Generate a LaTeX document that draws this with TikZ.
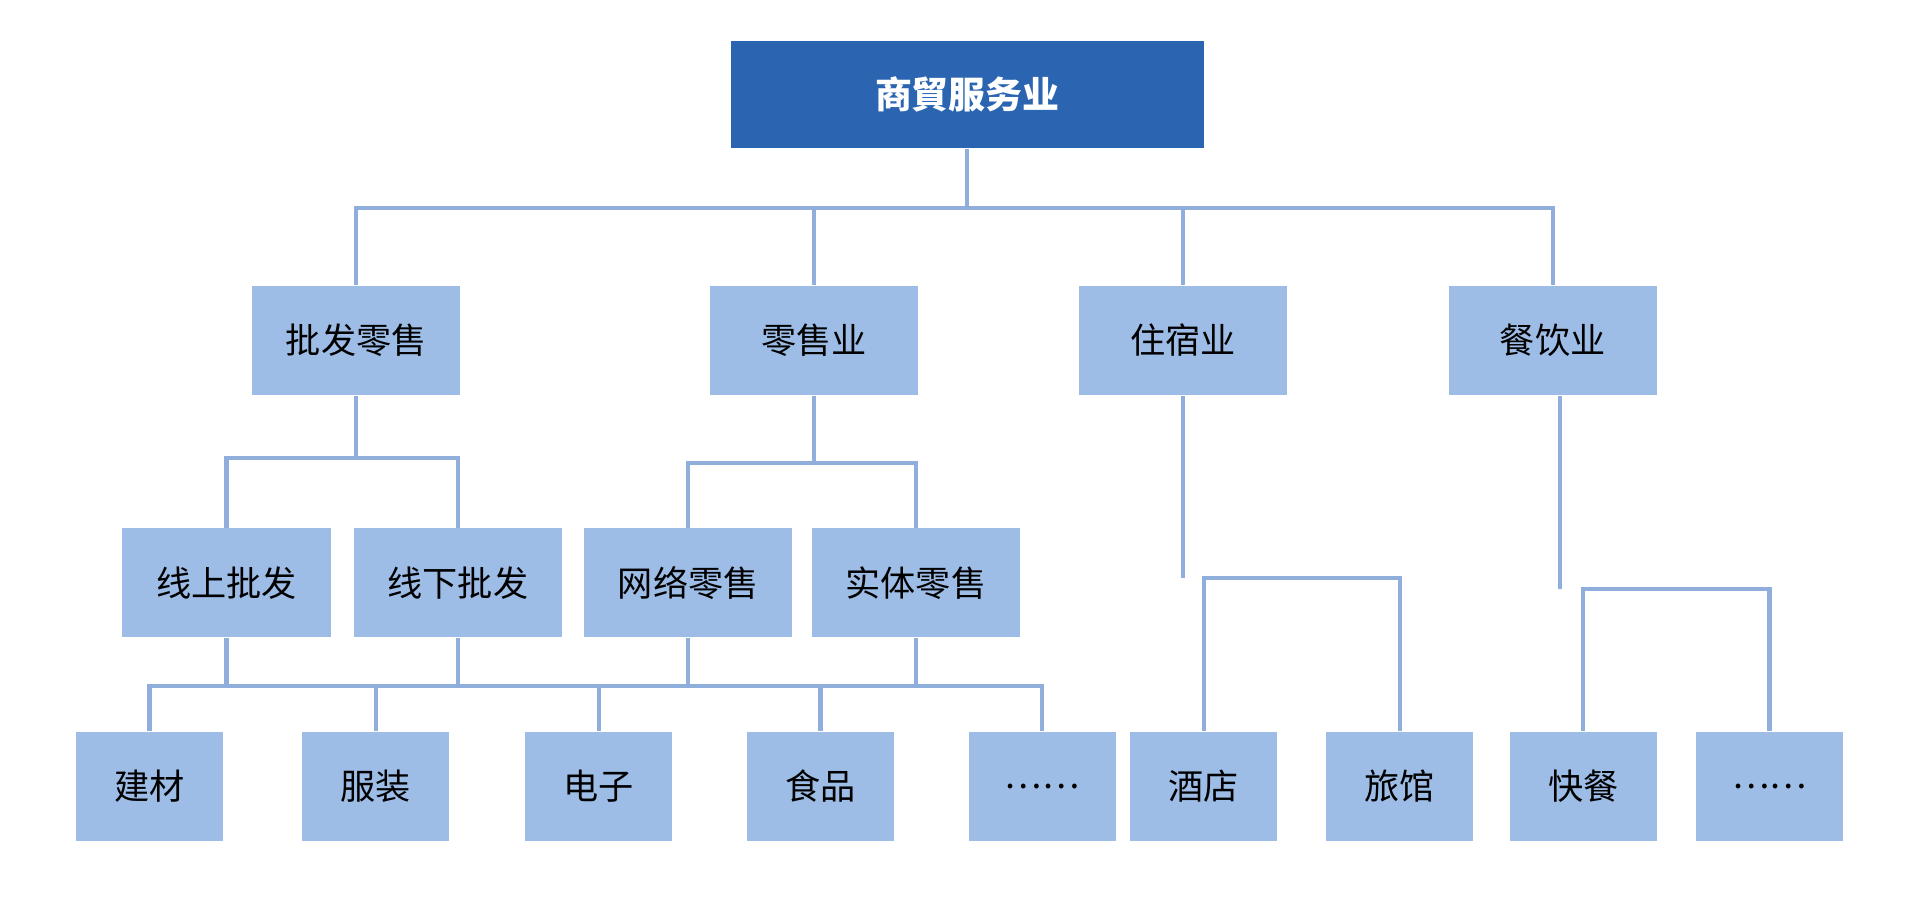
\documentclass[tikz,border=0pt]{standalone}
\usepackage{fontspec}
\newfontfamily\cjk{Noto Sans CJK SC}
\usetikzlibrary{positioning}
\definecolor{boxfill}{HTML}{9DBDE7}
\definecolor{topfill}{HTML}{2B65B2}
\definecolor{linkcol}{HTML}{8FAEDC}
\tikzset{
  box/.style={draw=none,fill=boxfill,minimum height=1.09cm,inner sep=0pt,
    font=\cjk\fontsize{10}{12}\selectfont},
  wide/.style={box,minimum width=2.08cm},
  small/.style={box,minimum width=1.47cm},
  link/.style={draw=linkcol,line width=1.2pt}
}
\begin{document}
\begin{tikzpicture}[x=0.012245cm,y=-0.012245cm]
\useasboundingbox (0,0) rectangle (1568,744);

% top node
\node[box,fill=topfill,text=white,minimum width=4.73cm,minimum height=1.07cm,
  font=\cjk\bfseries\fontsize{10.5}{12}\selectfont] (trade) at (790,77) {商貿服务业};

% second level
\node[wide] (wholesale) at (291,278) {批发零售};
\node[wide] (retail) at (665,278) {零售业};
\node[wide] (lodging) at (966,278) {住宿业};
\node[wide] (catering) at (1268,278) {餐饮业};

% third level
\node[wide] (online) at (185,476) {线上批发};
\node[wide] (offline) at (374,476) {线下批发};
\node[wide] (netretail) at (562,476) {网络零售};
\node[wide] (store) at (748,476) {实体零售};

% bottom level
\node[small] (build) at (122,642) {建材};
\node[small] (cloth) at (307,642) {服装};
\node[small] (elec) at (489,642) {电子};
\node[small] (food) at (670,642) {食品};
\node[small] (etcA) at (851,642) {……};
\node[small] (hotel) at (983,642) {酒店};
\node[small] (inn) at (1143,642) {旅馆};
\node[small] (fast) at (1293,642) {快餐};
\node[small] (etcB) at (1445,642) {……};

% bus coordinates
\coordinate (busA) at (0,170);
\coordinate (busB) at (0,374);
\coordinate (busC) at (0,378);
\coordinate (busD) at (0,560);
\coordinate (busE) at (0,472);
\coordinate (busF) at (0,481);

% top to second level
\draw[link] (trade.south) -- (trade.south |- busA);
\draw[link] (wholesale.north) |- (catering.north |- busA) -- (catering.north);
\foreach \n in {retail,lodging}
  \draw[link] (\n.north) -- (\n.north |- busA);

% wholesale branch
\draw[link] (wholesale.south) -- (wholesale.south |- busB);
\draw[link] (online.north) |- (offline.north |- busB) -- (offline.north);

% retail branch
\draw[link] (retail.south) -- (retail.south |- busC);
\draw[link] (netretail.north) |- (store.north |- busC) -- (store.north);

% goods bus
\draw[link] (build.north) |- (etcA.north |- busD) -- (etcA.north);
\foreach \n in {cloth,elec,food}
  \draw[link] (\n.north) -- (\n.north |- busD);
\foreach \n in {online,offline,netretail,store}
  \draw[link] (\n.south) -- (\n.south |- busD);

% lodging branch
\draw[link] (lodging.south) -- (lodging.south |- busE);
\draw[link] (hotel.north) |- (inn.north |- busE) -- (inn.north);

% catering branch
\draw[link] ([xshift=2]catering.south) -- ([xshift=2]catering.south |- busF);
\draw[link] (fast.north) |- (etcB.north |- busF) -- (etcB.north);
\end{tikzpicture}
\end{document}
